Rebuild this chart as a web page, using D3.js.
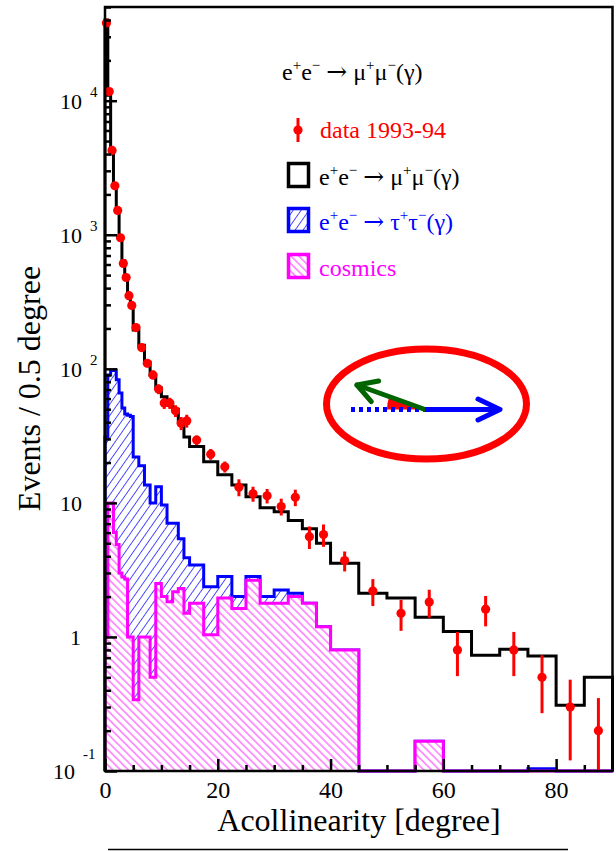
<!DOCTYPE html>
<html><head><meta charset="utf-8">
<script src="https://cdn.jsdelivr.net/npm/d3@7"></script>
<style>body{margin:0;background:#fff}svg{display:block}</style>
</head><body><svg id="c" width="616" height="851"></svg>
<script>
// ---------- data ----------
const binEdges = [0,0.5,1,1.5,2,2.5,3,3.5,4,4.5,5,
                  6,7,8,9,10,11,12,13,14,15,
                  17.5,20,22.5,25,27.5,30,32.5,35,37.5,40,
                  45,50,55,60,65,70,75,80,85,90];
const dataValues = [38000,11700,4260,2320,1518,950,611,480,351,297,
                    203,144,110,90,70.6,55.5,55.5,48.6,39.3,40.9,
                    29.4,23.1,18.6,13.1,11.7,11.3,9.4,11.0,5.6,5.8,
                    3.71,2.2,1.5,1.82,0.8,1.61,0.8,0.5,0.3,0.2];
const dataErrors = [195,108,65,48,39,31,25,22,19,17,
                    10,8.5,7.4,6.7,5.9,5.3,5.3,4.9,4.4,4.5,
                    2.4,2.15,1.75,1.9,1.5,1.4,1.35,1.55,1.07,1.1,
                    0.63,0.5,0.39,0.43,0.29,0.41,0.29,0.23,0.18,0.15];
const mumuMC = [40000,11000,4000,2300,1500,960,640,470,350,290,
                195,150,112,90,72,62,54,50,41,31,
                26.3,20.3,16.2,13.6,11.1,9.2,8.6,7.4,6.4,5.0,
                3.55,2.12,1.95,1.40,1.10,0.73,0.81,0.72,0.31,0.50];
const tauStacked = [31,90,97,98,83,66,51,46,45,44,
                    22,18.9,13.6,9.96,13.2,9.66,7.06,7.06,5.4,3.9,
                    3.44,2.37,2.82,2.0,2.82,2.0,2.24,2.12,1.78,1.19,
                    0.8,0,0,0.167,0,0,0,0.104,0,0];
const cosmics = [1.0,10,10,6,4.9,3.0,2.8,2.7,1.0,1.0,
                 0.34,1.0,1.0,0.5,2.5,2.0,1.83,2.17,2.3,1.5,
                 1.78,1.04,1.95,1.63,2.65,1.78,1.78,2.0,1.78,1.19,
                 0.8,0,0,0.167,0,0,0,0,0,0];
const xTicks = [0,20,40,60,80];
const xMinorTicks = [5,10,15,25,30,35,45,50,55,65,70,75,85];
const yDecades = [-1,0,1,2,3,4];

// ---------- setup ----------
const FONT = "'Liberation Serif','Times New Roman',serif";
const svg = d3.select("#c");
const x = d3.scaleLinear().domain([0,90]).range([105,612.5]);
const y = d3.scaleLog().domain([0.1,50000]).range([771,7]).clamp(true);
const yb = y(0.1);

const defs = svg.append("defs");
defs.append("pattern").attr("id","hBlue").attr("patternUnits","userSpaceOnUse")
  .attr("width",6.5).attr("height",6.5).attr("patternTransform","rotate(35)")
  .append("line").attr("x1",3.25).attr("y1",-1).attr("x2",3.25).attr("y2",7.5)
  .attr("stroke","#3030ff").attr("stroke-width",0.85);
defs.append("pattern").attr("id","hMag").attr("patternUnits","userSpaceOnUse")
  .attr("width",5.5).attr("height",5.5).attr("patternTransform","rotate(-45)")
  .call(p=>{p.append("rect").attr("width",5.5).attr("height",5.5).attr("fill","#fff");
            p.append("line").attr("x1",2.75).attr("y1",-1).attr("x2",2.75).attr("y2",6.5)
             .attr("stroke","#ff00ff").attr("stroke-width",0.8);});

function pts(vals){
  const a = vals.map((v,i)=>[binEdges[i], Math.max(v,0.1)]);
  a.push([binEdges[binEdges.length-1], Math.max(vals[vals.length-1],0.1)]);
  return a;
}
const line = d3.line().x(d=>x(d[0])).y(d=>y(d[1])).curve(d3.curveStepAfter);
const area = d3.area().x(d=>x(d[0])).y0(yb).y1(d=>y(d[1])).curve(d3.curveStepAfter);
function outline(vals){
  const a = pts(vals);
  return line([[a[0][0],0.1],...a,[a[a.length-1][0],0.1]]);
}

const plot = svg.append("g");
plot.append("path").attr("d",area(pts(tauStacked))).attr("fill","url(#hBlue)");
plot.append("path").attr("d",outline(tauStacked)).attr("fill","none").attr("stroke","#0000ff").attr("stroke-width",3);
plot.append("path").attr("d",area(pts(cosmics))).attr("fill","url(#hMag)");
plot.append("path").attr("d",outline(cosmics)).attr("fill","none").attr("stroke","#ff00ff").attr("stroke-width",3);
plot.append("path").attr("d",outline(mumuMC)).attr("fill","none").attr("stroke","#000").attr("stroke-width",3);

// data points
const centers = dataValues.map((v,i)=>(binEdges[i]+binEdges[i+1])/2);
const dg = plot.append("g");
dataValues.forEach((v,i)=>{
  const e = dataErrors[i];
  dg.append("line").attr("x1",x(centers[i])).attr("x2",x(centers[i]))
    .attr("y1",y(Math.max(v-e,0.1))).attr("y2",y(v+e))
    .attr("stroke","#ff0000").attr("stroke-width",3);
  dg.append("circle").attr("cx",x(centers[i])).attr("cy",y(v)).attr("r",4.6).attr("fill","#ff0000");
});

// ---------- axes ----------
const ax = svg.append("g");
ax.append("rect").attr("x",105).attr("y",7).attr("width",612.5-105).attr("height",771-7)
  .attr("fill","none").attr("stroke","#000").attr("stroke-width",2.5);

const xAxis = ax.append("g").attr("transform",`translate(0,${yb})`)
  .call(d3.axisBottom(x).tickValues(xTicks).tickSize(-12).tickFormat(d3.format("d")));
xAxis.select(".domain").remove();
xAxis.selectAll(".tick line").attr("stroke-width",2.5);
xAxis.selectAll(".tick text").attr("font-family",FONT).attr("font-size",24).attr("fill","#000")
  .attr("y",0).attr("dy",27);
const xMin = ax.append("g").attr("transform",`translate(0,${yb})`)
  .call(d3.axisBottom(x).tickValues(xMinorTicks).tickSize(-6).tickFormat(""));
xMin.select(".domain").remove();
xMin.selectAll(".tick line").attr("stroke-width",2.5);

const majVals = yDecades.map(e=>Math.pow(10,e));
const yAxis = ax.append("g").attr("transform","translate(105,0)")
  .call(d3.axisLeft(y).tickValues(majVals).tickSize(-12).tickFormat(""));
yAxis.select(".domain").remove();
yAxis.selectAll(".tick line").attr("stroke-width",2.5);
const minorVals = [];
yDecades.forEach(e=>{ for(let k=2;k<=9;k++){ const v=k*Math.pow(10,e); if(v<=50000) minorVals.push(v);} });
const yMin = ax.append("g").attr("transform","translate(105,0)")
  .call(d3.axisLeft(y).tickValues(minorVals).tickSize(-6).tickFormat(""));
yMin.select(".domain").remove();
yMin.selectAll(".tick line").attr("stroke-width",2.5);

// y tick labels (ROOT style exponents)
const lab = svg.append("g").attr("font-family",FONT).attr("fill","#000");
yDecades.forEach(e=>{
  const yy = y(Math.pow(10,e));
  if(e===0){
    lab.append("text").attr("x",81).attr("y",yy+8).attr("text-anchor","end").attr("font-size",22).text("1");
  } else if(e===1){
    lab.append("text").attr("x",82).attr("y",yy+8).attr("text-anchor","end").attr("font-size",22).text("10");
  } else if(e===-1){
    lab.append("text").attr("x",75).attr("y",yy+8).attr("text-anchor","end").attr("font-size",22).text("10");
    lab.append("text").attr("x",83).attr("y",yy-12).attr("font-size",15).text("-1");
  } else {
    lab.append("text").attr("x",82).attr("y",yy+8).attr("text-anchor","end").attr("font-size",22).text("10");
    lab.append("text").attr("x",90).attr("y",yy-4).attr("font-size",15).text(String(e));
  }
});

// axis titles
svg.append("text").attr("transform","translate(40,388.5) rotate(-90)").attr("text-anchor","middle")
  .attr("font-family",FONT).attr("font-size",32).attr("fill","#000").text("Events / 0.5 degree");
svg.append("text").attr("x",359).attr("y",831).attr("text-anchor","middle")
  .attr("font-family",FONT).attr("font-size",32).attr("fill","#000").text("Acollinearity [degree]");
svg.append("line").attr("x1",108).attr("x2",568).attr("y1",849.5).attr("y2",849.5)
  .attr("stroke","#000").attr("stroke-width",1.5);

// ---------- legend ----------
function reaction(g, xx, yy, lep, color){
  const t = g.append("text").attr("x",xx).attr("y",yy).attr("font-family",FONT)
    .attr("font-size",24).attr("fill",color);
  const parts = [["e",0],["+",1],["e",0],["\u2212",1],["\u00a0",0],["\u2192",2],["\u00a0",0],
                 [lep,0],["+",1],[lep,0],["\u2212",1],["(\u03b3)",0]];
  let prev = 0;
  parts.forEach(([s,kind])=>{
    const sup = kind===1;
    const dy = sup? (prev? 0 : -10) : (prev? 10 : 0);
    const ts = t.append("tspan").attr("dy",dy).text(s);
    if(sup) ts.attr("font-size",15);
    if(kind===2) ts.attr("font-family","'DejaVu Serif',serif").attr("font-size",25).attr("font-weight",300);
    prev = sup?1:0;
  });
  return t;
}
const lg = svg.append("g");
reaction(lg,282,80,"\u03bc","#000");
lg.append("line").attr("x1",298).attr("x2",298).attr("y1",118).attr("y2",142).attr("stroke","#ff0000").attr("stroke-width",3);
lg.append("circle").attr("cx",298).attr("cy",130).attr("r",4.6).attr("fill","#ff0000");
lg.append("text").attr("x",320).attr("y",138).attr("font-family",FONT).attr("font-size",24).attr("fill","#ff0000").text("data 1993-94");
lg.append("rect").attr("x",288.5).attr("y",163.5).attr("width",20).attr("height",23).attr("fill","#fff").attr("stroke","#000").attr("stroke-width",3.5);
reaction(lg,319,185,"\u03bc","#000");
lg.append("rect").attr("x",288.5).attr("y",208.5).attr("width",20).attr("height",23).attr("fill","url(#hBlue)").attr("stroke","#0000ff").attr("stroke-width",3.5);
reaction(lg,319,230,"\u03c4","#0000ff");
lg.append("rect").attr("x",288.5).attr("y",254.5).attr("width",20).attr("height",23).attr("fill","url(#hMag)").attr("stroke","#ff00ff").attr("stroke-width",3.5);
lg.append("text").attr("x",319).attr("y",276).attr("font-family",FONT).attr("font-size",24).attr("fill","#ff00ff").text("cosmics");

// ---------- inset sketch ----------
const ins = svg.append("g");
const vx = 425, vy = 409.5, r = 38;
const gdx = -0.943, gdy = -0.333;
ins.append("path").attr("d",`M${vx},${vy}L${vx-r},${vy}A${r},${r} 0 0 1 ${vx+r*gdx},${vy+r*gdy}Z`).attr("fill","#ff0000");
ins.append("line").attr("x1",351).attr("x2",vx).attr("y1",vy).attr("y2",vy).attr("stroke","#0000ff").attr("stroke-width",5).attr("stroke-dasharray","4,4");
ins.append("line").attr("x1",vx).attr("y1",vy).attr("x2",357).attr("y2",385).attr("stroke","#006400").attr("stroke-width",5).attr("stroke-linecap","round");
ins.append("polyline").attr("points","378.6,381 357,385 371.3,401.7").attr("fill","none").attr("stroke","#006400").attr("stroke-width",5).attr("stroke-linecap","round").attr("stroke-linejoin","round");
ins.append("line").attr("x1",vx).attr("y1",vy).attr("x2",499).attr("y2",vy).attr("stroke","#0000ff").attr("stroke-width",5);
ins.append("polyline").attr("points","478,399 500,409.5 478,420").attr("fill","none").attr("stroke","#0000ff").attr("stroke-width",5).attr("stroke-linecap","round").attr("stroke-linejoin","round");
ins.append("ellipse").attr("cx",426.5).attr("cy",404).attr("rx",100).attr("ry",55).attr("fill","none").attr("stroke","#ff0000").attr("stroke-width",7);
</script></body></html>
